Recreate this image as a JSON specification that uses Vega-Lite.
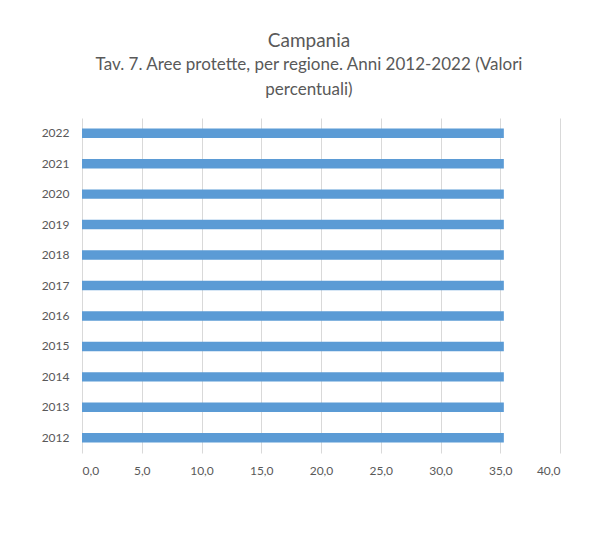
{
  "$schema": "https://vega.github.io/schema/vega-lite/v6.json",
  "width": 478,
  "height": 335,
  "autosize": {"type": "none"},
  "padding": {"left": 82, "top": 118, "right": 30, "bottom": 102},
  "background": "white",
  "title": {
    "text": "Campania",
    "subtitle": ["Tav. 7. Aree protette, per regione. Anni 2012-2022 (Valori", "percentuali)"],
    "anchor": "middle",
    "dx": -12,
    "offset": 20,
    "font": "Lato",
    "fontSize": 19,
    "fontWeight": "normal",
    "color": "#595959",
    "subtitleFont": "Lato",
    "subtitleFontSize": 17,
    "subtitleColor": "#595959",
    "subtitlePadding": 6,
    "subtitleLineHeight": 25
  },
  "data": {
    "values": [
      {"anno": "2012", "valore": 35.3},
      {"anno": "2013", "valore": 35.3},
      {"anno": "2014", "valore": 35.3},
      {"anno": "2015", "valore": 35.3},
      {"anno": "2016", "valore": 35.3},
      {"anno": "2017", "valore": 35.3},
      {"anno": "2018", "valore": 35.3},
      {"anno": "2019", "valore": 35.3},
      {"anno": "2020", "valore": 35.3},
      {"anno": "2021", "valore": 35.3},
      {"anno": "2022", "valore": 35.3}
    ]
  },
  "mark": {"type": "bar", "color": "#5b9bd5"},
  "encoding": {
    "y": {
      "field": "anno",
      "type": "ordinal",
      "sort": "descending",
      "scale": {"paddingInner": 0.69, "paddingOuter": 0.345},
      "axis": {
        "title": null,
        "domain": false,
        "ticks": false,
        "grid": false,
        "labelFont": "Lato",
        "labelFontSize": 12,
        "labelColor": "#595959",
        "labelPadding": 13
      }
    },
    "x": {
      "field": "valore",
      "type": "quantitative",
      "scale": {"domain": [0, 40], "nice": false},
      "axis": {
        "title": null,
        "values": [0, 5, 10, 15, 20, 25, 30, 35, 40],
        "labelExpr": "replace(format(datum.value, '.1f'), '.', ',')",
        "domain": false,
        "ticks": false,
        "grid": true,
        "gridColor": "#d9d9d9",
        "gridWidth": 1,
        "labelFont": "Lato",
        "labelFontSize": 12,
        "labelColor": "#595959",
        "labelPadding": 12
      }
    }
  },
  "config": {"view": {"stroke": null}}
}
